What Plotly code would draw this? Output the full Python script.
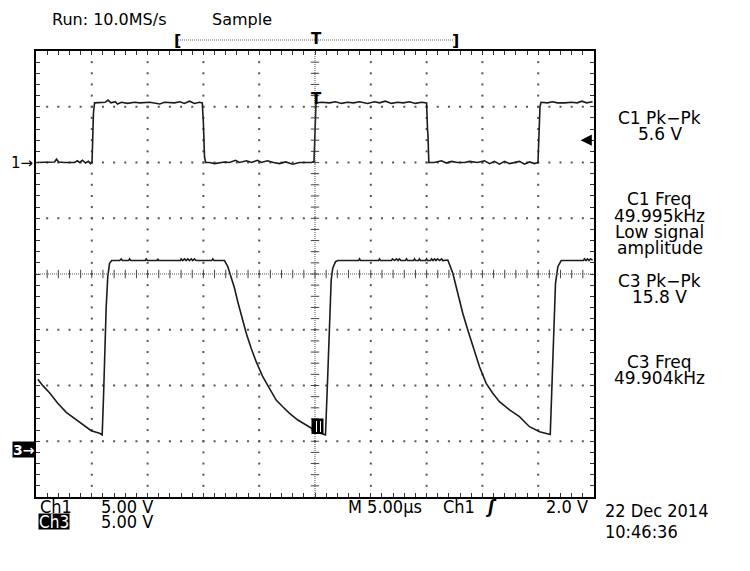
import numpy as np
import plotly.graph_objects as go

# ---------------- data (time in µs, voltage in V) ----------------
ch1_t = [-24.96, -24.24, -23.34, -23.16, -22.98, -22.45, -21.55, -21.28, -21.10, -20.83, -20.56, -20.30, -20.12, -19.98,
         -19.94, -19.85, -19.75,
         -19.30, -18.80, -18.55, -18.28, -17.90, -17.70, -17.34, -16.80, -16.17, -15.70, -14.80, -13.90, -13.50, -12.60,
         -12.10, -11.70, -11.25, -10.80, -10.35, -10.10,
         -10.00, -9.90, -9.80,
         -9.45, -9.00, -8.56, -8.10, -7.66, -7.12, -6.77, -6.14, -5.69, -5.15, -4.80, -4.26, -3.72, -3.19, -2.64, -2.00,
         -1.39, -0.85, -0.31, -0.09,
         -0.04, 0.03, 0.09,
         0.58, 1.30, 1.84, 2.37, 2.90, 3.45, 4.00, 4.70, 5.33, 5.78, 6.30, 6.85, 7.40, 7.90, 8.47, 9.00, 9.54, 10.00,
         10.08, 10.12, 10.20,
         10.70, 11.33, 11.78, 12.23, 12.77, 13.40, 13.84, 14.56, 15.19, 15.64, 16.08, 16.53, 16.98, 17.43, 17.88, 18.32,
         18.77, 19.22, 19.67, 19.98,
         20.07, 20.16, 20.25,
         20.83, 21.28, 21.73, 22.36, 22.98, 23.50, 23.90, 24.33, 24.87]
ch1_v = [0.0, 0.0, 0.05, 0.3, 0.05, 0.0, 0.0, 0.15, 0.0, 0.2, -0.05, 0.1, -0.1, 0.0,
         2.0, 4.5, 5.35,
         5.35, 5.4, 5.6, 5.35, 5.45, 5.25, 5.4, 5.3, 5.4, 5.35, 5.4, 5.25, 5.4, 5.35, 5.45, 5.3, 5.5, 5.3, 5.4, 5.35,
         3.5, 0.5, 0.0,
         0.0, -0.1, 0.0, 0.05, 0.0, 0.2, 0.0, 0.15, 0.0, 0.2, 0.0, 0.15, 0.0, -0.1, 0.05, -0.15, 0.0, 0.0, 0.0, 0.1,
         1.5, 4.0, 5.35,
         5.4, 5.35, 5.45, 5.3, 5.4, 5.35, 5.45, 5.3, 5.45, 5.35, 5.5, 5.3, 5.4, 5.35, 5.45, 5.3, 5.4, 5.35,
         3.0, 2.5, 0.0,
         0.0, 0.15, -0.05, 0.1, 0.0, 0.0, 0.1, 0.0, 0.15, -0.1, 0.1, -0.15, 0.1, -0.1, 0.0, 0.1, -0.15, 0.05, -0.1, 0.0,
         2.5, 5.0, 5.4,
         5.35, 5.45, 5.35, 5.35, 5.4, 5.35, 5.5, 5.35, 5.45]

ch3_t = [-24.84, -24.39, -23.79, -23.05, -22.29, -21.55, -20.81, -20.05, -19.31, -19.16,
         -19.07, -18.95, -18.84, -18.71, -18.57, -18.41, -18.21,
         -17.50, -17.37, -17.25, -16.70, -16.62, -16.50, -15.20, -15.13, -15.00, -14.15, -14.09, -14.00,
         -12.05, -11.99, -11.85, -11.69, -11.55, -11.40, -11.25, -11.09, -10.95, -10.80, -10.65, -9.25, -9.16, -9.05, -8.31,
         -8.11, -7.81, -7.51, -7.21, -6.92, -6.61, -6.16, -5.72, -5.27, -4.68, -4.08, -3.48, -2.89, -2.28, -1.54,
         -0.79, -0.34, 0.04, 0.40, 0.70, 0.90,
         0.94, 1.15, 1.30, 1.45, 1.59, 1.84, 2.04,
         3.90, 3.99, 4.08, 5.69, 5.78, 5.87, 6.85, 6.94, 7.12, 7.30, 7.44, 7.57, 7.70, 8.10, 8.20, 8.30, 8.83, 8.92,
         9.01, 9.27, 9.36, 9.45, 9.90, 9.99, 10.08, 10.35, 10.44, 10.57, 10.71, 10.84, 10.98, 11.16, 11.34, 11.45, 11.69,
         11.90, 12.35, 12.80, 13.24, 13.69, 14.14, 14.74, 15.34, 15.93, 16.53, 17.43, 18.32, 19.22, 20.12, 20.86, 21.08,
         21.25, 21.40, 21.55, 21.76, 22.06,
         22.80, 24.05, 24.15, 24.28, 24.42, 24.55, 24.69, 24.87]
ch3_v = [6.25, 5.68, 5.05, 4.10, 3.29, 2.75, 2.24, 1.64, 1.41, 1.26,
         1.26, 4.69, 8.88, 12.76, 15.45, 16.65, 16.90,
         16.9, 17.05, 16.9, 16.9, 17.05, 16.9, 16.9, 17.05, 16.9, 16.9, 17.05, 16.9,
         16.9, 17.05, 16.9, 17.05, 16.9, 17.05, 16.9, 17.05, 16.9, 17.05, 16.9, 16.9, 17.05, 16.9, 16.9,
         16.9, 16.35, 15.45, 14.41, 13.21, 12.02, 10.38, 9.03, 7.83, 6.48, 5.44, 4.39, 3.79, 3.20, 2.60,
         2.15, 1.88, 1.61, 1.43, 1.35, 1.26,
         1.26, 6.79, 11.27, 15.16, 16.21, 16.80, 16.90,
         16.9, 17.05, 16.9, 16.9, 17.05, 16.9, 16.9, 17.05, 16.9, 17.05, 16.9, 17.05, 16.9, 16.9, 17.05, 16.9, 16.9, 17.05,
         16.9, 16.9, 17.05, 16.9, 16.9, 17.05, 16.9, 16.9, 17.05, 16.9, 17.05, 16.9, 17.05, 16.9, 17.05, 16.9, 16.9,
         16.95, 15.76, 13.96, 12.17, 10.67, 9.17, 7.38, 5.89, 5.00, 4.24, 3.50, 2.90, 2.00, 1.55, 1.41, 1.30,
         6.19, 11.27, 14.86, 16.35, 16.90,
         16.9, 16.9, 17.05, 16.9, 17.05, 16.9, 17.05, 16.95]

trigger_level_v = 2.0
header_texts = ["Run: 10.0MS/s", "Sample"]
meas_texts = ["C1 Pk−Pk", "5.6 V", "C1 Freq", "49.995kHz", "Low signal", "amplitude",
              "C3 Pk−Pk", "15.8 V", "C3 Freq", "49.904kHz"]
footer_row1 = ["Ch1", "5.00 V", "M 5.00µs", "Ch1", "ʃ", "2.0 V"]
footer_row2 = ["Ch3", "5.00 V"]
date_texts = ["22 Dec 2014", "10:46:36"]

# ---------------- layout geometry (page pixels) ----------------
W, H = 750, 571
L, R, T, B = 36, 594, 51, 497
BODY = 8  # default page body margin


def PX(x):
    return (x - L) / (R - L)


def PY(y):
    return (B - y) / (B - T)


TRACE = "#1c1c1c"
FONT = "DejaVu Sans"
COND = "DejaVu Sans Condensed, Liberation Sans Narrow, DejaVu Sans"

fig = go.Figure()

# graticule dots
gx, gy = [], []
for t in [-20, -15, -10, -5, 5, 10, 15, 20]:
    for v in np.arange(-29, 10, 1.0):
        gx.append(t)
        gy.append(v)
for v in [5, 0, -5, -15, -20, -25]:
    for t in np.arange(-24, 25, 1.0):
        gx.append(t)
        gy.append(v)
fig.add_trace(go.Scatter(x=gx, y=gy, mode="markers", hoverinfo="skip",
                         marker=dict(symbol="square", size=2, color="#555", line=dict(width=0))))

# centre cross-hair with minor ticks
ct = list(np.arange(-24, 25, 1.0))
fig.add_trace(go.Scatter(x=ct, y=[-10] * len(ct), mode="markers", hoverinfo="skip",
                         marker=dict(symbol="line-ns", size=6, line=dict(width=1, color="#444"))))
cv = list(np.arange(-29, 10, 1.0))
fig.add_trace(go.Scatter(x=[0] * len(cv), y=cv, mode="markers", hoverinfo="skip",
                         marker=dict(symbol="line-ew", size=6, line=dict(width=1, color="#444"))))

# traces
fig.add_trace(go.Scatter(x=ch1_t, y=ch1_v, mode="lines", line=dict(color=TRACE, width=1.6), yaxis="y"))
fig.add_trace(go.Scatter(x=ch3_t, y=ch3_v, mode="lines", line=dict(color=TRACE, width=1.6), yaxis="y2"))

shapes = [
    dict(type="line", xref="x", yref="y", x0=-25, x1=25, y0=-10, y1=-10,
         line=dict(color="#555", width=1, dash="1px,1px")),
    dict(type="line", xref="x", yref="y", x0=0, x1=0, y0=-30, y1=10,
         line=dict(color="#555", width=1, dash="1px,1px")),
    # record-view bar at top
    dict(type="line", xref="paper", yref="paper", x0=PX(178), x1=PX(454), y0=PY(40), y1=PY(40),
         line=dict(color="#666", width=1, dash="1px,1px")),
    # marker block near the second rising edge of ch3
    dict(type="rect", xref="paper", yref="paper", x0=PX(311.5), x1=PX(323.5), y0=PY(434), y1=PY(418.5),
         fillcolor="black", line=dict(width=0), layer="above"),
    dict(type="line", xref="paper", yref="paper", x0=PX(316.5), x1=PX(316.5), y0=PY(432), y1=PY(421),
         line=dict(color="white", width=1), layer="above"),
    dict(type="line", xref="paper", yref="paper", x0=PX(320.5), x1=PX(320.5), y0=PY(432), y1=PY(421),
         line=dict(color="white", width=1), layer="above"),
]

ann = []


def text(x, y, s, size=17, family=FONT, xanchor="left", color="black", **kw):
    ann.append(dict(x=PX(x), y=PY(y), xref="paper", yref="paper", text=s, showarrow=False,
                    xanchor=xanchor, yanchor="middle", font=dict(size=size, family=family, color=color), **kw))


# header
text(50, 19, header_texts[0], size=16)
text(210, 19, header_texts[1], size=16)
text(177, 40, "<b>[</b>", size=16, xanchor="center")
text(455, 40, "<b>]</b>", size=16, xanchor="center")
text(316.5, 39.5, "<b>T</b>", size=15, xanchor="center")

# trigger position marker on trace
text(316.5, 99, "<b>T</b>", size=15, xanchor="center")

# channel ground markers
ann.append(dict(x=PX(35), y=0, xref="paper", yref="y", text="1→", showarrow=False, xanchor="right",
                yanchor="middle", font=dict(size=15, family=FONT, color="black")))
ann.append(dict(x=PX(36), y=0, xref="paper", yref="y2", text="<b>3→</b>", showarrow=False, xanchor="right",
                yanchor="middle", bgcolor="black", borderpad=0, height=15,
                font=dict(size=14, family=FONT, color="white")))

# trigger level arrow
ann.append(dict(x=23.8, y=trigger_level_v, xref="x", yref="y", ax=12, ay=0, text="", showarrow=True,
                arrowhead=2, arrowsize=1.4, arrowwidth=1.6, arrowcolor="black"))

# measurements
meas_y = [118, 134, 199, 216, 232, 248, 281, 297, 362, 378]
for s, y in zip(meas_texts, meas_y):
    text(660, y, s, size=17, xanchor="center")

# footer
fy1, fy2 = 506, 521.5
text(38, fy1, footer_row1[0], size=18, family=COND)
text(99, fy1, footer_row1[1], size=18, family=COND)
text(346, fy1, footer_row1[2], size=18, family=COND)
text(441, fy1, footer_row1[3], size=18, family=COND)
text(483, fy1, "<i><b>" + footer_row1[4] + "</b></i>", size=18, family=COND)
text(590, fy1, footer_row1[5], size=18, family=COND, xanchor="right")
text(38, fy2, footer_row2[0], size=17, family=COND, color="white", bgcolor="black", borderpad=0, height=15)
text(99, fy2, footer_row2[1], size=18, family=COND)
text(603, 510, date_texts[0], size=18, family=COND)
text(603, 531, date_texts[1], size=18, family=COND)

axis_common = dict(showgrid=False, zeroline=False, showticklabels=False, ticks="inside", ticklen=4,
                   tickwidth=1, tickcolor="#333", showline=True, linewidth=2, linecolor="black",
                   mirror="ticks", fixedrange=True)

fig.update_layout(
    width=W - BODY, height=H - BODY,
    margin=dict(l=L - BODY, r=W - R, t=T - BODY, b=H - B, pad=0),
    plot_bgcolor="white", paper_bgcolor="white",
    showlegend=False,
    xaxis=dict(range=[-25, 25], dtick=1, tick0=0, **axis_common),
    yaxis=dict(range=[-30, 10], dtick=1, tick0=0, **axis_common),
    yaxis2=dict(range=[-4.305, 35.695], overlaying="y", visible=False, fixedrange=True),
    shapes=shapes,
    annotations=ann,
)

fig.write_html("out.html")
